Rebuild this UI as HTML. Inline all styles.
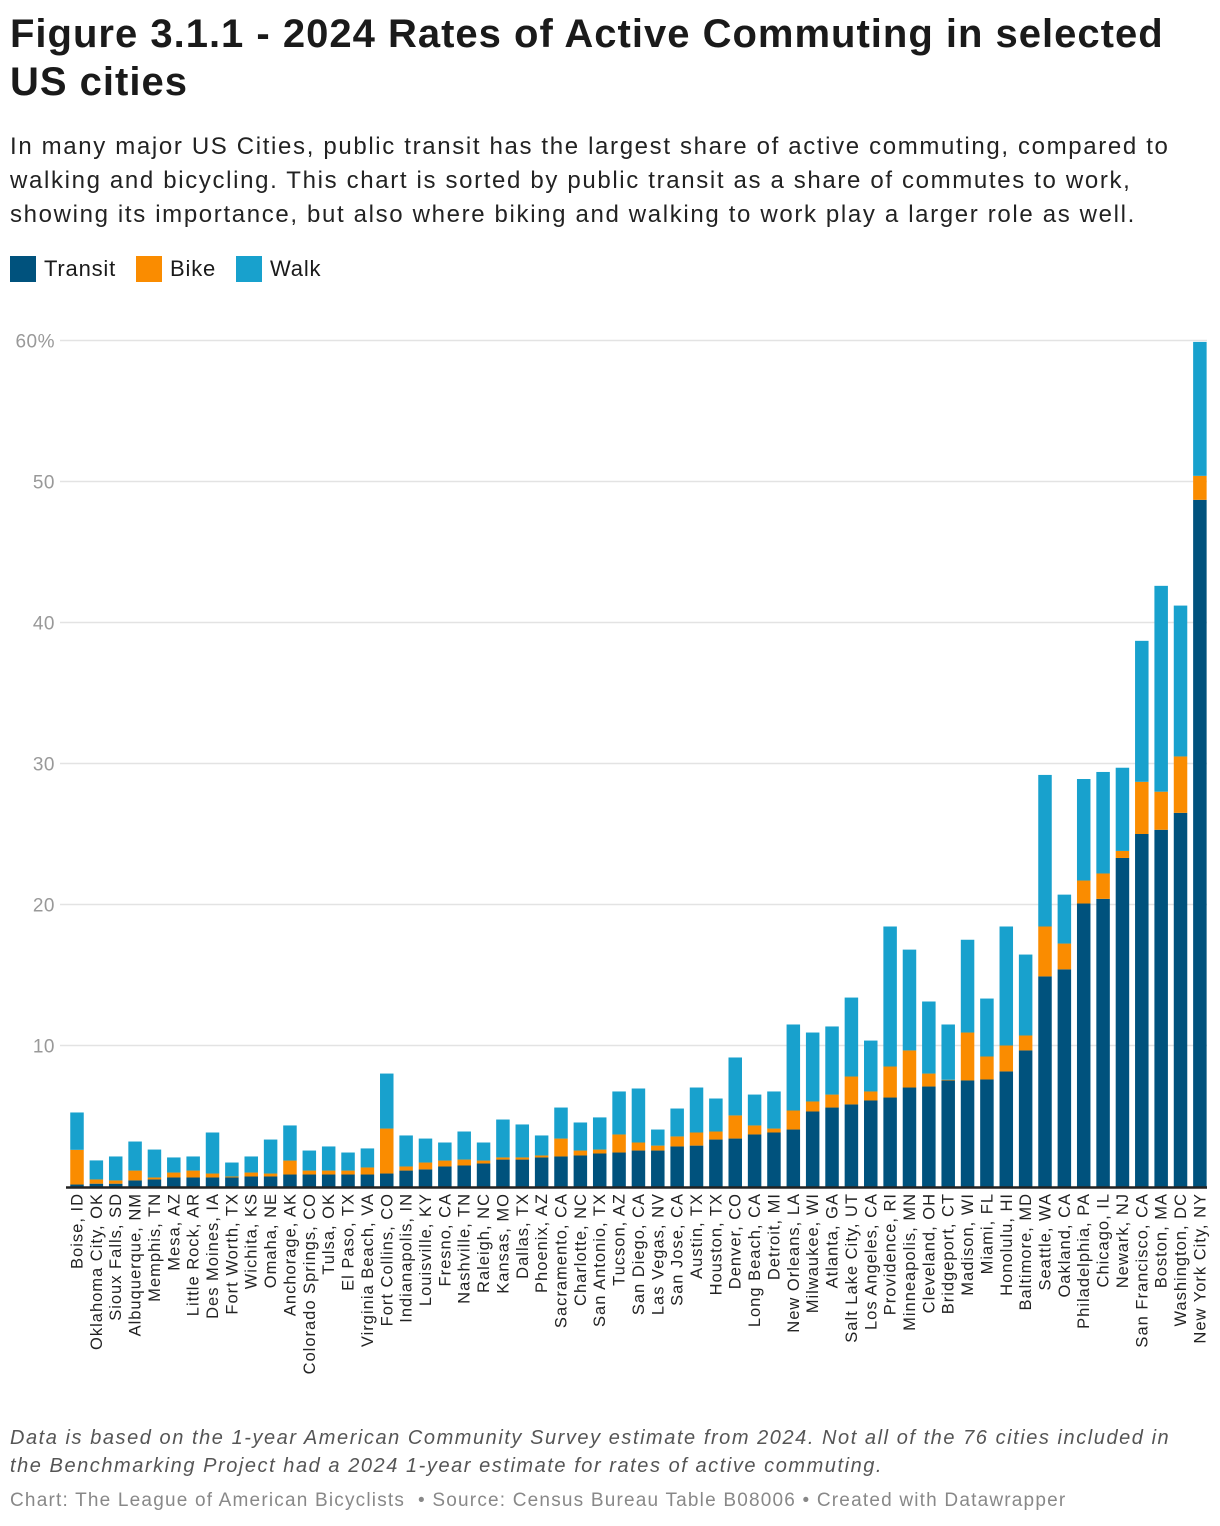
<!DOCTYPE html>
<html><head><meta charset="utf-8"><style>
body{margin:0;background:#fff;font-family:"Liberation Sans",Arial,sans-serif;color:#1a1a1a}
#wrap{position:relative;width:1220px;height:1526px;overflow:hidden}
h1{position:absolute;left:10px;top:10px;margin:0;font-size:40px;line-height:48px;font-weight:bold;width:1215px;letter-spacing:1.0px;white-space:nowrap}
.sub{position:absolute;left:10px;top:130px;font-size:24px;line-height:34px;width:1215px;color:#222;letter-spacing:1.65px;white-space:nowrap}
.legend{position:absolute;left:10px;top:256px;font-size:22px;display:flex;gap:20px;align-items:center;letter-spacing:0.8px}
.legend span{display:flex;align-items:center}
.legend i{display:inline-block;width:26px;height:26px;margin-right:8px}
.note{position:absolute;left:10px;top:1424px;font-size:20px;line-height:28px;font-style:italic;color:#555;width:1210px;white-space:nowrap;letter-spacing:1.55px}
.cred{position:absolute;left:10px;top:1490px;font-size:19px;color:#888;letter-spacing:1.2px;white-space:nowrap}
</style></head><body><div id="wrap">
<h1>Figure 3.1.1 - 2024 Rates of Active Commuting in selected<br>US cities</h1>
<div class="sub">In many major US Cities, public transit has the largest share of active commuting, compared to<br>walking and bicycling. This chart is sorted by public transit as a share of commutes to work,<br>showing its importance, but also where biking and walking to work play a larger role as well.</div>
<div class="legend">
<span><i style="background:#00527d"></i>Transit</span>
<span><i style="background:#fa8c00"></i>Bike</span>
<span><i style="background:#18a1cd"></i>Walk</span>
</div>
<svg id="chart" width="1220" height="1526" style="position:absolute;left:0;top:0"></svg>
<div class="note">Data is based on the 1-year American Community Survey estimate from 2024. Not all of the 76 cities included in<br>the Benchmarking Project had a 2024 1-year estimate for rates of active commuting.</div>
<div class="cred">Chart: The League of American Bicyclists &nbsp;• Source: Census Bureau Table B08006 • Created with Datawrapper</div>
</div>
<script>
const cities=["Boise, ID","Oklahoma City, OK","Sioux Falls, SD","Albuquerque, NM","Memphis, TN","Mesa, AZ","Little Rock, AR","Des Moines, IA","Fort Worth, TX","Wichita, KS","Omaha, NE","Anchorage, AK","Colorado Springs, CO","Tulsa, OK","El Paso, TX","Virginia Beach, VA","Fort Collins, CO","Indianapolis, IN","Louisville, KY","Fresno, CA","Nashville, TN","Raleigh, NC","Kansas, MO","Dallas, TX","Phoenix, AZ","Sacramento, CA","Charlotte, NC","San Antonio, TX","Tucson, AZ","San Diego, CA","Las Vegas, NV","San Jose, CA","Austin, TX","Houston, TX","Denver, CO","Long Beach, CA","Detroit, MI","New Orleans, LA","Milwaukee, WI","Atlanta, GA","Salt Lake City, UT","Los Angeles, CA","Providence, RI","Minneapolis, MN","Cleveland, OH","Bridgeport, CT","Madison, WI","Miami, FL","Honolulu, HI","Baltimore, MD","Seattle, WA","Oakland, CA","Philadelphia, PA","Chicago, IL","Newark, NJ","San Francisco, CA","Boston, MA","Washington, DC","New York City, NY"];
const transit=[0.14,0.2,0.2,0.43,0.5,0.64,0.64,0.64,0.64,0.71,0.71,0.85,0.85,0.85,0.85,0.85,0.92,1.13,1.21,1.42,1.49,1.63,1.91,1.91,2.06,2.13,2.2,2.34,2.41,2.55,2.55,2.84,2.9,3.33,3.4,3.69,3.83,4.04,5.32,5.6,5.82,6.1,6.31,7.02,7.09,7.52,7.52,7.59,8.16,9.65,14.9,15.4,20.07,20.4,23.3,25.0,25.3,26.5,48.7];
const bike=[2.46,0.3,0.23,0.7,0.14,0.35,0.49,0.28,0.07,0.28,0.21,0.99,0.28,0.28,0.28,0.5,3.19,0.29,0.49,0.42,0.42,0.21,0.15,0.15,0.14,1.27,0.35,0.28,1.28,0.57,0.35,0.71,0.93,0.57,1.64,0.64,0.28,1.35,0.71,0.92,1.98,0.64,2.2,2.63,0.92,0.05,3.4,1.63,1.84,1.06,3.54,1.83,1.63,1.8,0.5,3.7,2.7,4.0,1.7];
const walk=[2.65,1.35,1.7,2.06,1.98,1.07,1.0,2.91,0.99,1.14,2.41,2.49,1.42,1.71,1.28,1.35,3.9,2.2,1.7,1.28,1.99,1.28,2.69,2.34,1.42,2.2,1.99,2.28,3.05,3.83,1.14,1.98,3.19,2.34,4.11,2.19,2.63,6.1,4.89,4.83,5.6,3.61,9.93,7.15,5.11,3.92,6.58,4.11,8.44,5.74,10.75,3.47,7.2,7.2,5.9,10.0,14.6,10.7,9.5];
const yTicks=[0,10,20,30,40,50,60];
const yLabels=["","10","20","30","40","50","60%"];
const NS="http://www.w3.org/2000/svg",svg=document.getElementById('chart');
const y0=1186.5,pxU=14.1,x0=77,step=19.36,bw=13.5;
const y=v=>y0-v*pxU, x=i=>x0+i*step;
function mk(t,a){const e=document.createElementNS(NS,t);for(const k in a)e.setAttribute(k,a[k]);svg.appendChild(e);return e;}
yTicks.forEach((t,i)=>{
 if(t>0){const g=mk('line',{x1:60,x2:1207,y1:y(t),y2:y(t),stroke:'#e3e3e3','stroke-width':1.5});
 
 }
 const l=mk('text',{x:55,y:y(t)+7,'text-anchor':'end','font-size':19,fill:'#999','font-family':'Liberation Sans, sans-serif','letter-spacing':0.5});
 l.textContent=yLabels[i];
 
 
});
cities.forEach((c,i)=>{
 const segs=[[0,transit[i],'#00527d','transit'],[transit[i],transit[i]+bike[i],'#fa8c00','bike'],[transit[i]+bike[i],transit[i]+bike[i]+walk[i],'#18a1cd','walk']];
 segs.forEach(s=>{const r=mk('rect',{x:x(i)-bw/2,y:y(s[1]),width:bw,height:Math.max(0,y(s[0])-y(s[1])),fill:s[2]});
 
 });
 const t=mk('text',{x:0,y:0,'text-anchor':'end','font-size':16.5,'letter-spacing':1,fill:'#222','font-family':'Liberation Sans, sans-serif',transform:`translate(${x(i)+5.5},1193) rotate(-90)`});
 t.textContent=c;
 
 
});
const b=mk('line',{x1:66,x2:1207,y1:y0+1,y2:y0+1,stroke:'#222','stroke-width':2.5});


</script></body></html>
